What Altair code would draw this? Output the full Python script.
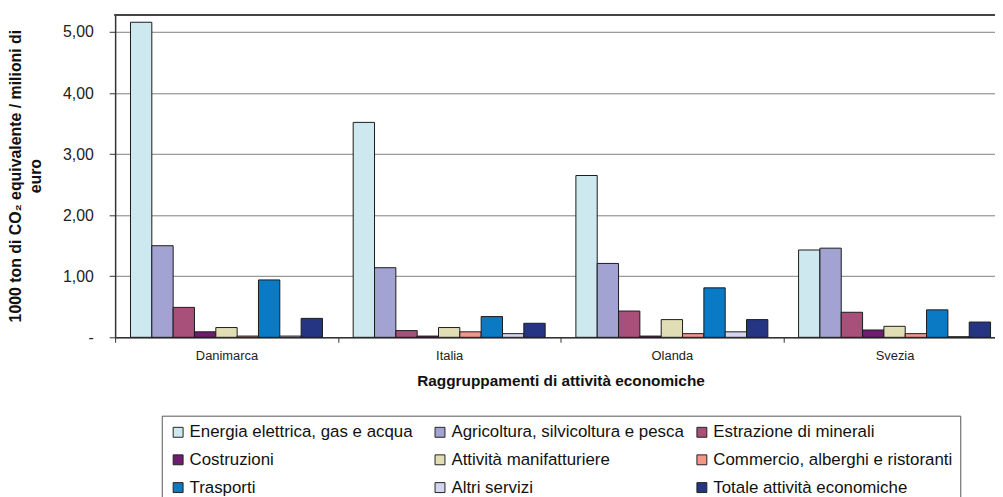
import altair as alt
import pandas as pd

countries = ["Danimarca", "Italia", "Olanda", "Svezia"]
sectors = [
    "Energia elettrica, gas e acqua",
    "Agricoltura, silvicoltura e pesca",
    "Estrazione di minerali",
    "Costruzioni",
    "Attività manifatturiere",
    "Commercio, alberghi e ristoranti",
    "Trasporti",
    "Altri servizi",
    "Totale attività economiche",
]
colors = ["#CDE8EE", "#A3A3D3", "#A84F7A", "#6E1E6E", "#E1DDB5",
          "#F4958A", "#0A7AC4", "#D4D4F0", "#263583"]

energia = [5.16, 3.52, 2.65, 1.43]
agricoltura = [1.50, 1.14, 1.21, 1.46]
estrazione = [0.49, 0.11, 0.43, 0.41]
costruzioni = [0.09, 0.02, 0.02, 0.12]
manifatturiere = [0.16, 0.16, 0.29, 0.18]
commercio = [0.02, 0.09, 0.06, 0.06]
trasporti = [0.94, 0.34, 0.81, 0.45]
altri_servizi = [0.02, 0.06, 0.09, 0.01]
totale = [0.31, 0.23, 0.29, 0.25]

series = [energia, agricoltura, estrazione, costruzioni, manifatturiere,
          commercio, trasporti, altri_servizi, totale]

rows = []
for s, vals in zip(sectors, series):
    for c, v in zip(countries, vals):
        rows.append({"Paese": c, "Settore": s, "Valore": v})
df = pd.DataFrame(rows)

# legend is laid out column by column: reorder so it reads row by row
legend_order = [0, 3, 6, 1, 4, 7, 2, 5, 8]
legend_domain = [sectors[i] for i in legend_order]
legend_range = [colors[i] for i in legend_order]

FONT = "Liberation Sans"

bars = alt.Chart(df).mark_bar(stroke="#1a1a1a", strokeWidth=1).encode(
    x=alt.X(
        "Paese:N",
        sort=countries,
        scale=alt.Scale(range=[0, 898], paddingInner=0, paddingOuter=0),
        axis=alt.Axis(
            title="Raggruppamenti di attività economiche",
            labelAngle=0,
            tickBand="extent",
            tickSize=5,
            labelPadding=7,
            labelFontSize=13,
            titleFontSize=15.5,
            titleFontWeight="bold",
            titlePadding=12,
        ),
    ),
    xOffset=alt.XOffset(
        "Settore:N",
        sort=sectors,
        scale=alt.Scale(paddingInner=0, paddingOuter=0.72),
    ),
    y=alt.Y(
        "Valore:Q",
        scale=alt.Scale(domain=[0, 5.28], nice=False),
        axis=alt.Axis(
            title=["1000 ton di CO₂ equivalente / milioni di", "euro"],
            values=[0, 1, 2, 3, 4, 5],
            labelExpr="datum.value == 0 ? '-' : replace(format(datum.value, '.2f'), '.', ',')",
            grid=True,
            gridColor="#808080",
            gridWidth=1,
            tickSize=6,
            labelPadding=16,
            labelAlign="right",
            labelFontSize=16,
            titleFontSize=16,
            titleFontWeight="bold",
            titleAngle=-90,
            titleAlign="center",
            titleBaseline="bottom",
            titleLineHeight=20,
            titleX=-92,
            titleY=162,
        ),
    ),
    color=alt.Color(
        "Settore:N",
        scale=alt.Scale(domain=legend_domain, range=legend_range),
        legend=alt.Legend(
            title=None,
            orient="none",
            legendX=47,
            legendY=404,
            columns=3,
            gridAlign="all",
            columnPadding=3,
            rowPadding=10,
            padding=8,
            strokeColor="#555555",
            symbolType="square",
            symbolSize=100,
            symbolStrokeColor="#222222",
            symbolStrokeWidth=1,
            symbolOpacity=1,
            labelFontSize=17,
            labelFont=FONT,
            labelColor="#111111",
            labelLimit=400,
            labelOffset=3,
        ),
    ),
)

top_rule = alt.Chart(pd.DataFrame({"v": [0]})).mark_rule(
    color="#444444", strokeWidth=2
).encode(x=alt.value(-1), x2=alt.value(900), y=alt.value(0))

chart = alt.layer(bars, top_rule).properties(
    width=887,
    height=325,
    autosize=alt.AutoSizeParams(type="none"),
    padding={"left": 108, "top": 5, "right": 0, "bottom": 159},
).configure_view(stroke=None).configure_axis(
    domainColor="#333333",
    domainWidth=1.5,
    tickColor="#333333",
    labelColor="#222222",
    titleColor="#111111",
    labelFont=FONT,
    titleFont=FONT,
)

chart.save("out.html", embed_options={"renderer": "svg", "actions": False})
